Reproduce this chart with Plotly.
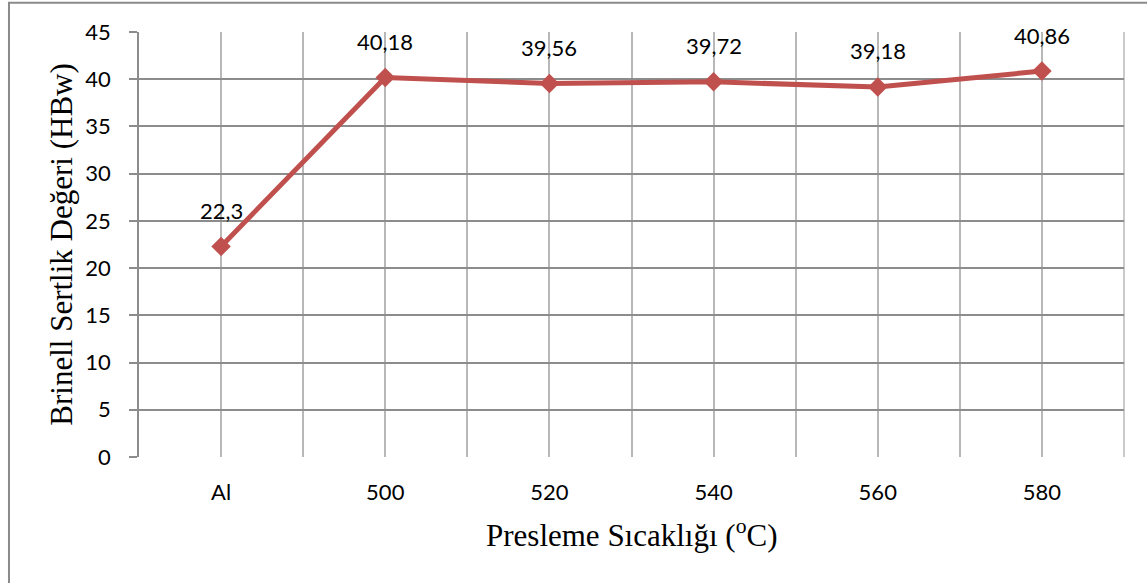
import plotly.graph_objects as go

categories = ["Al", "500", "520", "540", "560", "580"]
hardness = [22.3, 40.18, 39.56, 39.72, 39.18, 40.86]
value_labels = ["22,3", "40,18", "39,56", "39,72", "39,18", "40,86"]
y_ticks = [0, 5, 10, 15, 20, 25, 30, 35, 40, 45]

x_pos = list(range(len(categories)))

fig = go.Figure()
fig.add_trace(go.Scatter(
    x=x_pos, y=hardness, mode="lines+markers",
    line=dict(color="#c0504d", width=5),
    marker=dict(symbol="diamond", size=15, color="#c0504d"),
    hoverinfo="skip", showlegend=False,
))

for xi, yi, lab in zip(x_pos, hardness, value_labels):
    fig.add_annotation(x=xi, y=yi, text=lab, showarrow=False, yshift=36,
                       yanchor="middle", font=dict(family="Lato", size=22, color="#000000"))

fig.add_annotation(xref="paper", yref="paper", x=0.5, y=-0.179,
                   text="Presleme Sıcaklığı (<sup>o</sup>C)", showarrow=False,
                   xanchor="center", yanchor="middle",
                   font=dict(family="Liberation Serif", size=31, color="#000000"))
fig.add_annotation(xref="paper", yref="paper", x=-0.079, y=0.5,
                   text="Brinell Sertlik Değeri (HBw)", showarrow=False, textangle=-90,
                   xanchor="center", yanchor="middle",
                   font=dict(family="Liberation Serif", size=31, color="#000000"))

# outer chart frame
fig.add_shape(type="rect", xref="paper", yref="paper",
              x0=-0.132, x1=1.3, y0=-0.5, y1=1.069,
              line=dict(color="#8a8a8a", width=2), layer="below")
# right edge of plot area
fig.add_shape(type="line", xref="paper", yref="paper",
              x0=1, x1=1, y0=0, y1=1,
              line=dict(color="#b8b8b8", width=1.5), layer="below")

fig.update_xaxes(
    range=[-0.5, 5.5], tickmode="array", tickvals=x_pos, ticktext=categories,
    showgrid=True, gridcolor="#b8b8b8", gridwidth=1.5,
    minor=dict(tick0=0.5, dtick=1, showgrid=True, gridcolor="#b8b8b8", gridwidth=1.5),
    ticks="", ticklabelstandoff=20, zeroline=False,
    showline=False,
    tickfont=dict(family="Lato", size=22, color="#000000"),
)
fig.update_yaxes(
    range=[0, 45], tickmode="array", tickvals=y_ticks,
    showgrid=True, gridcolor="#8c8c8c", gridwidth=1.5,
    ticks="outside", ticklen=8, tickcolor="#8c8c8c", tickwidth=1.5,
    ticklabelstandoff=14,
    showline=True, linecolor="#8c8c8c", linewidth=1.5, zeroline=False,
    tickfont=dict(family="Lato", size=22, color="#000000"),
)

fig.update_layout(
    width=1147, height=583,
    margin=dict(l=139, r=23, t=32, b=126),
    plot_bgcolor="#ffffff", paper_bgcolor="#ffffff",
)

fig.write_html("out.html", config={"displayModeBar": False},
               post_script="document.body.style.margin='0';")
